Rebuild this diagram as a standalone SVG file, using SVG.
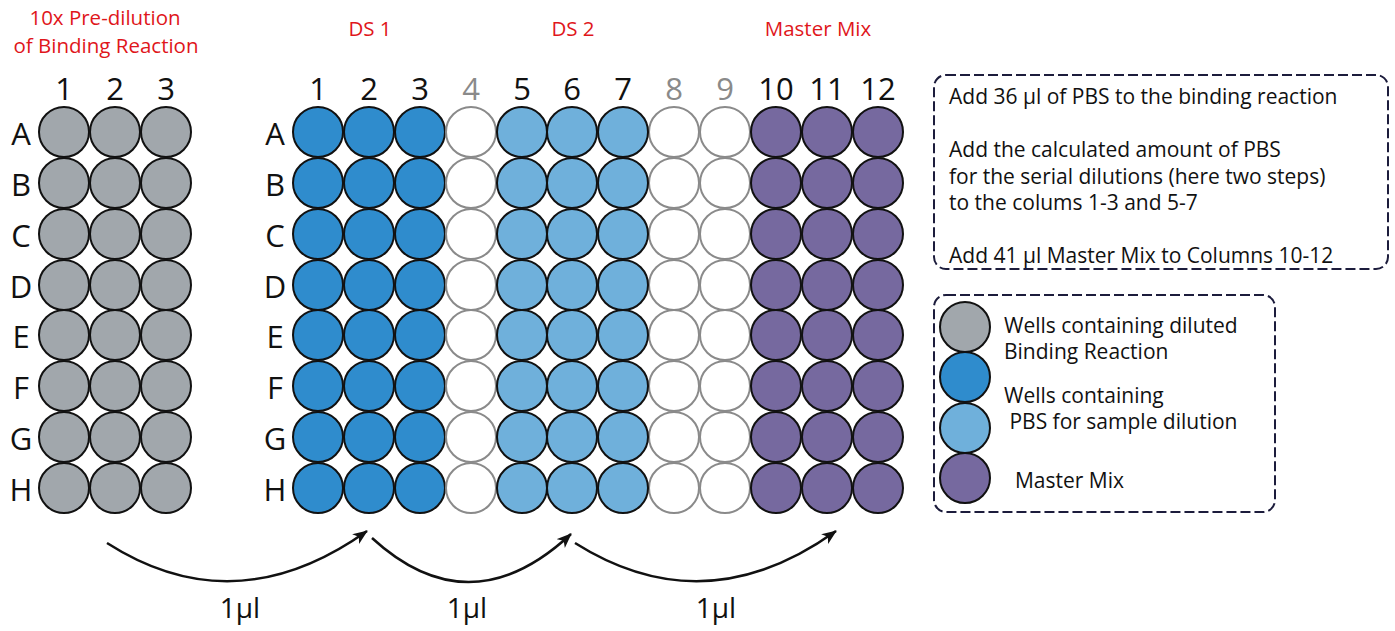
<svg xmlns="http://www.w3.org/2000/svg" width="1395" height="631" viewBox="0 0 1395 631">
<style>
text{font-family:"Open Sans","Noto Sans","DejaVu Sans",sans-serif;fill:#111}
.title{font-size:20.5px;fill:#e0161b;text-anchor:middle}
.num{font-size:31px;text-anchor:middle}
.row{font-size:31px;text-anchor:middle}
.gnum{fill:#8a8a8a}
.w{stroke:#111;stroke-width:2}
.g{fill:#a1a7ac}
.b{fill:#2f8ccd}
.lb{fill:#6fb0db}
.p{fill:#76699f}
.e{fill:#fff;stroke:#8a8a8a;stroke-width:2}
.box{fill:none;stroke:#1c1c3c;stroke-width:2;stroke-dasharray:10 4}
.info{font-size:21px}
.leg{font-size:21px}
.arr{fill:none;stroke:#111;stroke-width:2.5}
.lbl{font-size:28px;text-anchor:middle}
</style>
<defs>
<marker id="ah" markerUnits="userSpaceOnUse" markerWidth="18" markerHeight="14" refX="14" refY="6" orient="auto">
<path d="M0,0 L15,6 L0,12 L4,6 z" fill="#111"/>
</marker>
<circle id="well" r="25"/>
</defs>

<g id="titles">
<text class="title" x="105" y="25">10x Pre-dilution</text>
<text class="title" x="106" y="53">of Binding Reaction</text>
<text class="title" x="370" y="36">DS 1</text>
<text class="title" x="573" y="36">DS 2</text>
<text class="title" x="818" y="36">Master Mix</text>
</g>

<g id="predilution-plate">
<g id="pre-cols">
<text class="num" x="64" y="100">1</text>
<text class="num" x="115" y="100">2</text>
<text class="num" x="166" y="100">3</text>
</g>
<g id="pre-rows">
<text class="row" x="21" y="145">A</text>
<text class="row" x="21" y="196">B</text>
<text class="row" x="21" y="247">C</text>
<text class="row" x="21" y="298">D</text>
<text class="row" x="21" y="348">E</text>
<text class="row" x="21" y="399">F</text>
<text class="row" x="21" y="450">G</text>
<text class="row" x="21" y="501">H</text>
</g>
<g id="pre-wells" class="w g">
<use href="#well" x="64" y="132"/><use href="#well" x="115" y="132"/><use href="#well" x="166" y="132"/>
<use href="#well" x="64" y="183"/><use href="#well" x="115" y="183"/><use href="#well" x="166" y="183"/>
<use href="#well" x="64" y="234"/><use href="#well" x="115" y="234"/><use href="#well" x="166" y="234"/>
<use href="#well" x="64" y="285"/><use href="#well" x="115" y="285"/><use href="#well" x="166" y="285"/>
<use href="#well" x="64" y="335"/><use href="#well" x="115" y="335"/><use href="#well" x="166" y="335"/>
<use href="#well" x="64" y="386"/><use href="#well" x="115" y="386"/><use href="#well" x="166" y="386"/>
<use href="#well" x="64" y="437"/><use href="#well" x="115" y="437"/><use href="#well" x="166" y="437"/>
<use href="#well" x="64" y="488"/><use href="#well" x="115" y="488"/><use href="#well" x="166" y="488"/>
</g>
</g>

<g id="main-plate">
<g id="main-cols">
<text class="num" x="318" y="100">1</text>
<text class="num" x="369" y="100">2</text>
<text class="num" x="420" y="100">3</text>
<text class="num gnum" x="471" y="100">4</text>
<text class="num" x="522" y="100">5</text>
<text class="num" x="572" y="100">6</text>
<text class="num" x="623" y="100">7</text>
<text class="num gnum" x="674" y="100">8</text>
<text class="num gnum" x="725" y="100">9</text>
<text class="num" x="776" y="100">10</text>
<text class="num" x="827" y="100">11</text>
<text class="num" x="878" y="100">12</text>
</g>
<g id="main-rows">
<text class="row" x="275" y="145">A</text>
<text class="row" x="275" y="196">B</text>
<text class="row" x="275" y="247">C</text>
<text class="row" x="275" y="298">D</text>
<text class="row" x="275" y="348">E</text>
<text class="row" x="275" y="399">F</text>
<text class="row" x="275" y="450">G</text>
<text class="row" x="275" y="501">H</text>
</g>
<g id="ds1-wells" class="w b">
<use href="#well" x="318" y="132"/><use href="#well" x="369" y="132"/><use href="#well" x="420" y="132"/>
<use href="#well" x="318" y="183"/><use href="#well" x="369" y="183"/><use href="#well" x="420" y="183"/>
<use href="#well" x="318" y="234"/><use href="#well" x="369" y="234"/><use href="#well" x="420" y="234"/>
<use href="#well" x="318" y="285"/><use href="#well" x="369" y="285"/><use href="#well" x="420" y="285"/>
<use href="#well" x="318" y="335"/><use href="#well" x="369" y="335"/><use href="#well" x="420" y="335"/>
<use href="#well" x="318" y="386"/><use href="#well" x="369" y="386"/><use href="#well" x="420" y="386"/>
<use href="#well" x="318" y="437"/><use href="#well" x="369" y="437"/><use href="#well" x="420" y="437"/>
<use href="#well" x="318" y="488"/><use href="#well" x="369" y="488"/><use href="#well" x="420" y="488"/>
</g>
<g id="empty-wells" class="e">
<use href="#well" x="471" y="132"/><use href="#well" x="674" y="132"/><use href="#well" x="725" y="132"/>
<use href="#well" x="471" y="183"/><use href="#well" x="674" y="183"/><use href="#well" x="725" y="183"/>
<use href="#well" x="471" y="234"/><use href="#well" x="674" y="234"/><use href="#well" x="725" y="234"/>
<use href="#well" x="471" y="285"/><use href="#well" x="674" y="285"/><use href="#well" x="725" y="285"/>
<use href="#well" x="471" y="335"/><use href="#well" x="674" y="335"/><use href="#well" x="725" y="335"/>
<use href="#well" x="471" y="386"/><use href="#well" x="674" y="386"/><use href="#well" x="725" y="386"/>
<use href="#well" x="471" y="437"/><use href="#well" x="674" y="437"/><use href="#well" x="725" y="437"/>
<use href="#well" x="471" y="488"/><use href="#well" x="674" y="488"/><use href="#well" x="725" y="488"/>
</g>
<g id="ds2-wells" class="w lb">
<use href="#well" x="522" y="132"/><use href="#well" x="572" y="132"/><use href="#well" x="623" y="132"/>
<use href="#well" x="522" y="183"/><use href="#well" x="572" y="183"/><use href="#well" x="623" y="183"/>
<use href="#well" x="522" y="234"/><use href="#well" x="572" y="234"/><use href="#well" x="623" y="234"/>
<use href="#well" x="522" y="285"/><use href="#well" x="572" y="285"/><use href="#well" x="623" y="285"/>
<use href="#well" x="522" y="335"/><use href="#well" x="572" y="335"/><use href="#well" x="623" y="335"/>
<use href="#well" x="522" y="386"/><use href="#well" x="572" y="386"/><use href="#well" x="623" y="386"/>
<use href="#well" x="522" y="437"/><use href="#well" x="572" y="437"/><use href="#well" x="623" y="437"/>
<use href="#well" x="522" y="488"/><use href="#well" x="572" y="488"/><use href="#well" x="623" y="488"/>
</g>
<g id="mm-wells" class="w p">
<use href="#well" x="776" y="132"/><use href="#well" x="827" y="132"/><use href="#well" x="878" y="132"/>
<use href="#well" x="776" y="183"/><use href="#well" x="827" y="183"/><use href="#well" x="878" y="183"/>
<use href="#well" x="776" y="234"/><use href="#well" x="827" y="234"/><use href="#well" x="878" y="234"/>
<use href="#well" x="776" y="285"/><use href="#well" x="827" y="285"/><use href="#well" x="878" y="285"/>
<use href="#well" x="776" y="335"/><use href="#well" x="827" y="335"/><use href="#well" x="878" y="335"/>
<use href="#well" x="776" y="386"/><use href="#well" x="827" y="386"/><use href="#well" x="878" y="386"/>
<use href="#well" x="776" y="437"/><use href="#well" x="827" y="437"/><use href="#well" x="878" y="437"/>
<use href="#well" x="776" y="488"/><use href="#well" x="827" y="488"/><use href="#well" x="878" y="488"/>
</g>
</g>

<g id="instructions">
<rect class="box" x="934" y="75" width="454" height="194" rx="12"/>
<text class="info" x="949" y="104">Add 36 µl of PBS to the binding reaction</text>
<text class="info" x="949" y="157">Add the calculated amount of PBS</text>
<text class="info" x="949" y="183.5">for the serial dilutions (here two steps)</text>
<text class="info" x="949" y="210">to the colums 1-3 and 5-7</text>
<text class="info" x="949" y="262.5">Add 41 µl Master Mix to Columns 10-12</text>
</g>

<g id="legend">
<rect class="box" x="934" y="295" width="341" height="217" rx="12"/>
<circle class="w g" cx="965" cy="327" r="25"/>
<circle class="w b" cx="965" cy="377" r="25"/>
<circle class="w lb" cx="965" cy="428" r="25"/>
<circle class="w p" cx="965" cy="478" r="25"/>
<text class="leg" x="1004" y="333">Wells containing diluted</text>
<text class="leg" x="1004" y="359">Binding Reaction</text>
<text class="leg" x="1004" y="403">Wells containing</text>
<text class="leg" x="1004" y="429" xml:space="preserve"> PBS for sample dilution</text>
<text class="leg" x="1004" y="488" xml:space="preserve">  Master Mix</text>
</g>

<g id="connectors">
<path class="arr" d="M107,543 Q235,625 367,531" marker-end="url(#ah)"/>
<path class="arr" d="M372,538 Q470,628 571,534" marker-end="url(#ah)"/>
<path class="arr" d="M575,543 Q705,625 836,531" marker-end="url(#ah)"/>
<text class="lbl" x="240" y="618">1µl</text>
<text class="lbl" x="467" y="618">1µl</text>
<text class="lbl" x="716" y="618">1µl</text>
</g>
</svg>
